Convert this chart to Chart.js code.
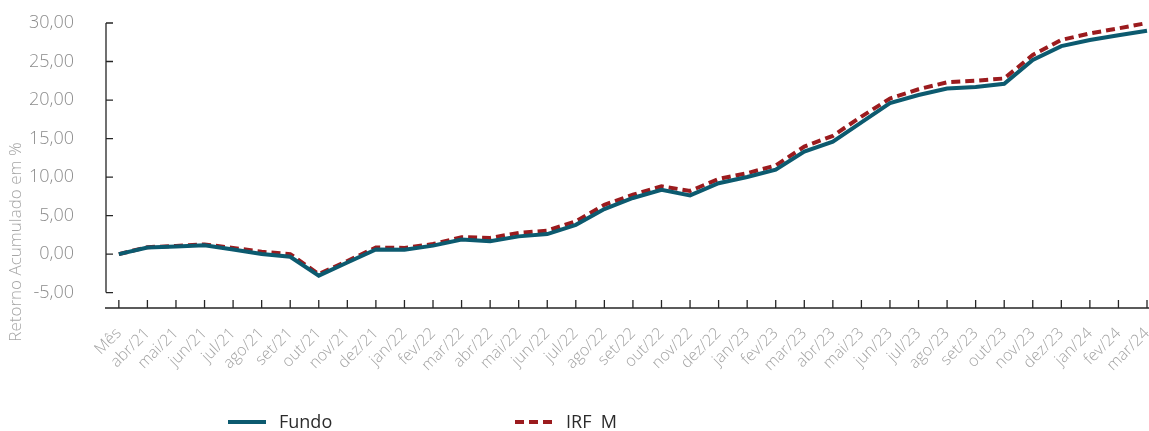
<!DOCTYPE html>
<html>
<head>
<meta charset="utf-8">
<script src="https://cdn.jsdelivr.net/npm/chart.js@4/dist/chart.umd.min.js"></script>
<style>
  html, body { margin: 0; padding: 0; background: #fff; }
  canvas { display: block; }
</style>
</head>
<body>
<canvas id="grafico" width="1149" height="431"></canvas>
<script>
// meses (eixo x)
const meses = ['Mês', 'abr/21', 'mai/21', 'jun/21', 'jul/21', 'ago/21', 'set/21', 'out/21', 'nov/21', 'dez/21',
  'jan/22', 'fev/22', 'mar/22', 'abr/22', 'mai/22', 'jun/22', 'jul/22', 'ago/22', 'set/22', 'out/22', 'nov/22', 'dez/22',
  'jan/23', 'fev/23', 'mar/23', 'abr/23', 'mai/23', 'jun/23', 'jul/23', 'ago/23', 'set/23', 'out/23', 'nov/23', 'dez/23',
  'jan/24', 'fev/24', 'mar/24'];

// retorno acumulado em %
const fundo = [0, 0.85, 1.0, 1.15, 0.6, 0.0, -0.35, -2.8, -1.1, 0.6,
  0.55, 1.1, 1.88, 1.66, 2.3, 2.6, 3.8, 5.85, 7.28, 8.35, 7.62, 9.2,
  10.0, 10.95, 13.3, 14.6, 17.1, 19.6, 20.65, 21.5, 21.7, 22.1, 25.2, 27.0,
  27.8, 28.4, 29.0];

const irfm = [0, 0.9, 1.05, 1.25, 0.8, 0.3, 0.0, -2.6, -0.9, 0.85,
  0.8, 1.3, 2.2, 2.1, 2.75, 3.05, 4.25, 6.4, 7.7, 8.8, 8.2, 9.75,
  10.5, 11.5, 13.95, 15.35, 17.85, 20.2, 21.4, 22.3, 22.5, 22.8, 25.85, 27.8,
  28.65, 29.3, 30.0];

const yTicks = [-5, 0, 5, 10, 15, 20, 25, 30];

const corFundo = '#0c5a6f';
const corIrfm = '#9b1b1e';

// eixos com marcas para dentro, titulo do eixo y e legenda
const eixos = {
  id: 'eixos',
  afterDraw(chart) {
    const { ctx, chartArea, scales: { x, y } } = chart;
    ctx.save();
    ctx.strokeStyle = '#262626';
    ctx.lineWidth = 1.3;
    ctx.beginPath();
    // eixo x
    ctx.moveTo(chartArea.left - 1, chartArea.bottom);
    ctx.lineTo(chartArea.right + 2, chartArea.bottom);
    meses.forEach((m, i) => {
      const px = x.getPixelForValue(i);
      ctx.moveTo(px, chartArea.bottom);
      ctx.lineTo(px, chartArea.bottom - 8);
    });
    // eixo y
    ctx.moveTo(chartArea.left, y.getPixelForValue(30));
    ctx.lineTo(chartArea.left, y.getPixelForValue(-5));
    yTicks.forEach(v => {
      const py = y.getPixelForValue(v);
      ctx.moveTo(chartArea.left, py);
      ctx.lineTo(chartArea.left + 7, py);
    });
    ctx.stroke();

    // titulo do eixo y
    ctx.save();
    ctx.translate(16, 242);
    ctx.rotate(-Math.PI / 2);
    ctx.fillStyle = '#a6a6a6';
    ctx.font = '300 17px "Open Sans"';
    ctx.textAlign = 'center';
    ctx.textBaseline = 'middle';
    ctx.fillText('Retorno Acumulado em %', 0, 0);
    ctx.restore();

    // legenda
    const itens = [
      { ds: chart.data.datasets[0], x: 228 },
      { ds: chart.data.datasets[1], x: 515 }
    ];
    ctx.font = '18px "Open Sans"';
    ctx.textBaseline = 'middle';
    ctx.textAlign = 'left';
    itens.forEach(it => {
      ctx.beginPath();
      ctx.strokeStyle = it.ds.borderColor;
      ctx.lineWidth = 4;
      ctx.setLineDash(it.ds.borderDash || []);
      ctx.moveTo(it.x, 422);
      ctx.lineTo(it.x + 38, 422);
      ctx.stroke();
      ctx.setLineDash([]);
      ctx.fillStyle = '#2b2b2b';
      ctx.fillText(it.ds.label, it.x + 51, 423);
    });
    ctx.restore();
  }
};

new Chart(document.getElementById('grafico'), {
  type: 'line',
  data: {
    datasets: [
      {
        label: 'Fundo',
        data: fundo.map((v, i) => ({ x: i, y: v })),
        borderColor: corFundo,
        borderWidth: 4,
        pointRadius: 0,
        tension: 0,
        clip: false
      },
      {
        label: 'IRF  M',
        data: irfm.map((v, i) => ({ x: i, y: v })),
        borderColor: corIrfm,
        borderWidth: 4,
        borderDash: [9, 5],
        pointRadius: 0,
        tension: 0,
        clip: false
      }
    ]
  },
  options: {
    responsive: false,
    animation: false,
    layout: { padding: { top: 23, right: 2, left: 0, bottom: 0 } },
    plugins: {
      legend: { display: false },
      tooltip: { enabled: false }
    },
    scales: {
      x: {
        type: 'linear',
        min: -0.45,
        max: 36,
        afterBuildTicks: s => { s.ticks = meses.map((m, i) => ({ value: i })); },
        afterFit: s => { s.height = 123; s.paddingLeft = 0; s.paddingRight = 0; },
        grid: { display: false },
        border: { display: false },
        ticks: {
          autoSkip: false,
          maxRotation: 45,
          minRotation: 45,
          padding: 8,
          color: '#a3a3a3',
          font: { family: 'Open Sans', size: 16, weight: 300 },
          callback: v => meses[v]
        }
      },
      y: {
        min: -7,
        max: 30,
        afterBuildTicks: s => { s.ticks = yTicks.map(v => ({ value: v })); },
        afterFit: s => { s.width = 106; s.paddingTop = 0; s.paddingBottom = 0; },
        grid: { display: false },
        border: { display: false },
        ticks: {
          padding: 24,
          color: '#8c8c8c',
          font: { family: 'Open Sans', size: 18, weight: 300 },
          callback: v => v.toFixed(2).replace('.', ',')
        }
      }
    }
  },
  plugins: [eixos]
});
</script>
</body>
</html>
